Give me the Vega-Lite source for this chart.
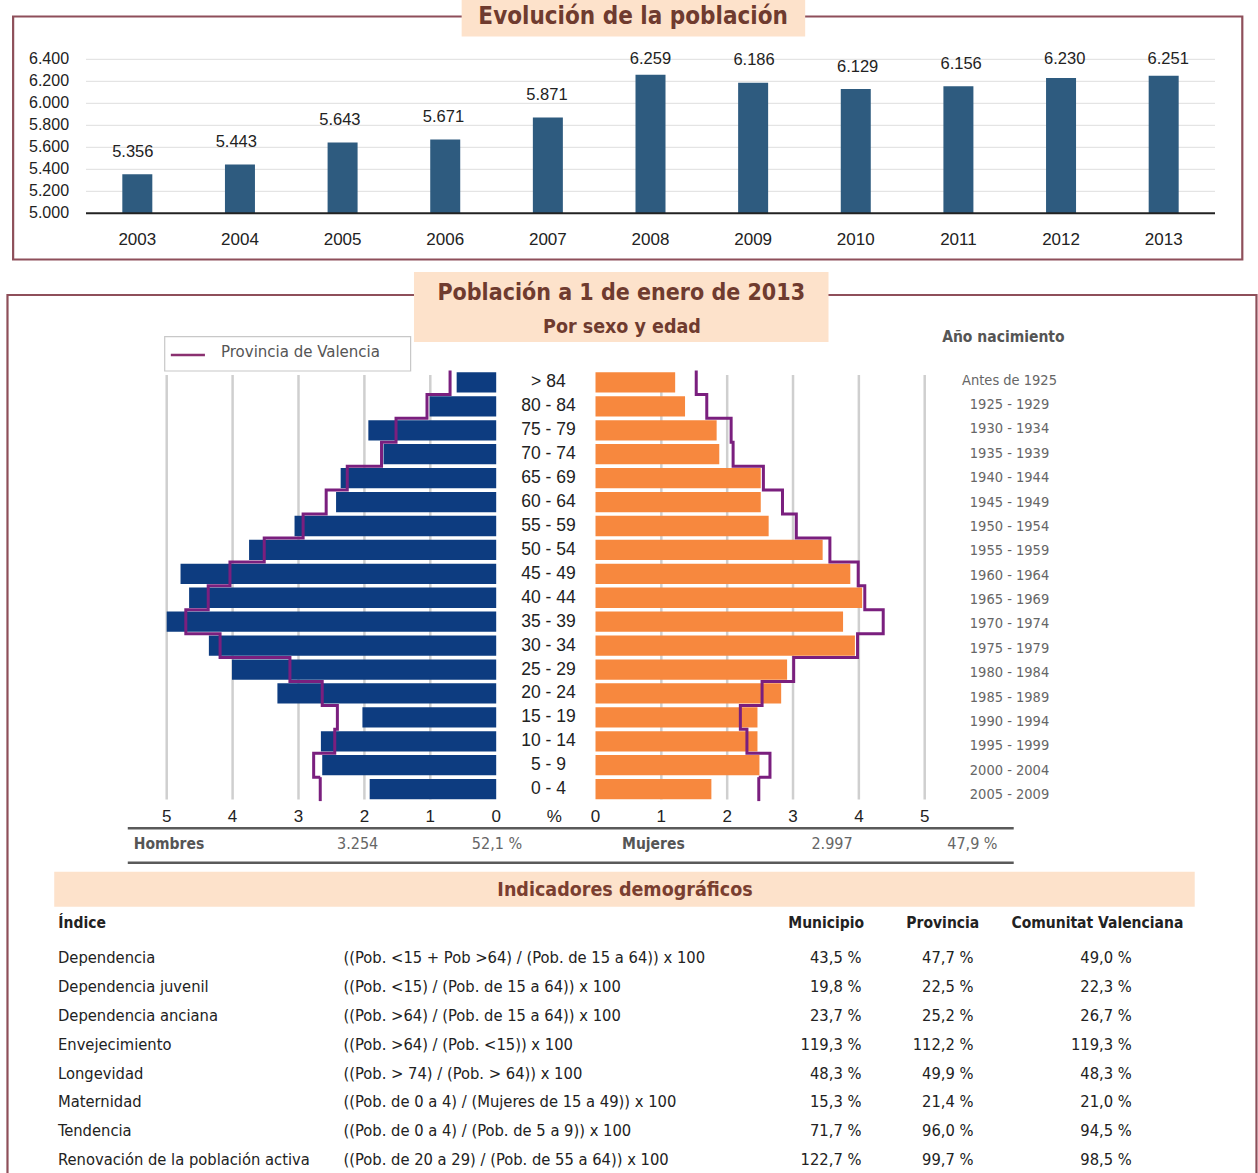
{
"$schema": "https://vega.github.io/schema/vega-lite/v6.json",
"width": 1258, "height": 1173,
"autosize": {"type": "none"},
"padding": 0,
"background": "white",
"config": {"view": {"stroke": null}, "axis": {"disable": true},
  "locale": {"number": {"decimal": ",", "thousands": ".", "grouping": [3], "currency": ["", " €"], "percent": " %"}}},
"datasets": {
  "pop": [
    {"year": 2003, "poblacion": 5356}, {"year": 2004, "poblacion": 5443}, {"year": 2005, "poblacion": 5643},
    {"year": 2006, "poblacion": 5671}, {"year": 2007, "poblacion": 5871}, {"year": 2008, "poblacion": 6259},
    {"year": 2009, "poblacion": 6186}, {"year": 2010, "poblacion": 6129}, {"year": 2011, "poblacion": 6156},
    {"year": 2012, "poblacion": 6230}, {"year": 2013, "poblacion": 6251}],
  "ytick": [{"v": 5000}, {"v": 5200}, {"v": 5400}, {"v": 5600}, {"v": 5800}, {"v": 6000}, {"v": 6200}, {"v": 6400}],
  "ticks": [{"t": 0}, {"t": 1}, {"t": 2}, {"t": 3}, {"t": 4}, {"t": 5}],
  "piramide": [
    {"b": 0, "edad": "> 84", "nacimiento": "Antes de 1925", "hombres": 0.60, "mujeres": 1.21, "prov_h": 0.70, "prov_m": 1.53},
    {"b": 1, "edad": "80 - 84", "nacimiento": "1925 - 1929", "hombres": 1.01, "mujeres": 1.36, "prov_h": 1.05, "prov_m": 1.69},
    {"b": 2, "edad": "75 - 79", "nacimiento": "1930 - 1934", "hombres": 1.94, "mujeres": 1.84, "prov_h": 1.52, "prov_m": 2.06},
    {"b": 3, "edad": "70 - 74", "nacimiento": "1935 - 1939", "hombres": 1.71, "mujeres": 1.88, "prov_h": 1.74, "prov_m": 2.09},
    {"b": 4, "edad": "65 - 69", "nacimiento": "1940 - 1944", "hombres": 2.36, "mujeres": 2.51, "prov_h": 2.26, "prov_m": 2.55},
    {"b": 5, "edad": "60 - 64", "nacimiento": "1945 - 1949", "hombres": 2.43, "mujeres": 2.51, "prov_h": 2.58, "prov_m": 2.84},
    {"b": 6, "edad": "55 - 59", "nacimiento": "1950 - 1954", "hombres": 3.06, "mujeres": 2.63, "prov_h": 2.93, "prov_m": 3.05},
    {"b": 7, "edad": "50 - 54", "nacimiento": "1955 - 1959", "hombres": 3.75, "mujeres": 3.45, "prov_h": 3.52, "prov_m": 3.56},
    {"b": 8, "edad": "45 - 49", "nacimiento": "1960 - 1964", "hombres": 4.79, "mujeres": 3.87, "prov_h": 4.04, "prov_m": 3.99},
    {"b": 9, "edad": "40 - 44", "nacimiento": "1965 - 1969", "hombres": 4.66, "mujeres": 4.05, "prov_h": 4.37, "prov_m": 4.09},
    {"b": 10, "edad": "35 - 39", "nacimiento": "1970 - 1974", "hombres": 5.00, "mujeres": 3.76, "prov_h": 4.71, "prov_m": 4.37},
    {"b": 11, "edad": "30 - 34", "nacimiento": "1975 - 1979", "hombres": 4.36, "mujeres": 3.94, "prov_h": 4.19, "prov_m": 3.98},
    {"b": 12, "edad": "25 - 29", "nacimiento": "1980 - 1984", "hombres": 4.01, "mujeres": 2.91, "prov_h": 3.13, "prov_m": 3.01},
    {"b": 13, "edad": "20 - 24", "nacimiento": "1985 - 1989", "hombres": 3.32, "mujeres": 2.82, "prov_h": 2.64, "prov_m": 2.53},
    {"b": 14, "edad": "15 - 19", "nacimiento": "1990 - 1994", "hombres": 2.03, "mujeres": 2.46, "prov_h": 2.41, "prov_m": 2.20},
    {"b": 15, "edad": "10 - 14", "nacimiento": "1995 - 1999", "hombres": 2.66, "mujeres": 2.46, "prov_h": 2.45, "prov_m": 2.30},
    {"b": 16, "edad": "5 - 9", "nacimiento": "2000 - 2004", "hombres": 2.64, "mujeres": 2.49, "prov_h": 2.77, "prov_m": 2.65},
    {"b": 17, "edad": "0 - 4", "nacimiento": "2005 - 2009", "hombres": 1.92, "mujeres": 1.76, "prov_h": 2.67, "prov_m": 2.48}],
  "totales": [
    {"sexo": "Hombres", "total": 3254, "pct": 0.521},
    {"sexo": "Mujeres", "total": 2997, "pct": 0.479}],
  "indicadores": [
    {"indice": "Dependencia", "formula": "((Pob. <15 + Pob >64) / (Pob. de 15 a 64)) x 100", "municipio": 0.435, "provincia": 0.477, "cv": 0.490},
    {"indice": "Dependencia juvenil", "formula": "((Pob. <15) / (Pob. de 15 a 64)) x 100", "municipio": 0.198, "provincia": 0.225, "cv": 0.223},
    {"indice": "Dependencia anciana", "formula": "((Pob. >64) / (Pob. de 15 a 64)) x 100", "municipio": 0.237, "provincia": 0.252, "cv": 0.267},
    {"indice": "Envejecimiento", "formula": "((Pob. >64) / (Pob. <15)) x 100", "municipio": 1.193, "provincia": 1.122, "cv": 1.193},
    {"indice": "Longevidad", "formula": "((Pob. > 74) / (Pob. > 64)) x 100", "municipio": 0.483, "provincia": 0.499, "cv": 0.483},
    {"indice": "Maternidad", "formula": "((Pob. de 0 a 4) / (Mujeres de 15 a 49)) x 100", "municipio": 0.153, "provincia": 0.214, "cv": 0.210},
    {"indice": "Tendencia", "formula": "((Pob. de 0 a 4) / (Pob. de 5 a 9)) x 100", "municipio": 0.717, "provincia": 0.960, "cv": 0.945},
    {"indice": "Renovación de la población activa", "formula": "((Pob. de 20 a 29) / (Pob. de 55 a 64)) x 100", "municipio": 1.227, "provincia": 0.997, "cv": 0.985}]
},
"resolve": {"scale": {"x": "independent", "y": "independent"}},
"layer": [
  {
    "layer": [
      {"data": {"values": [{}]}, "mark": {"type": "rect", "fillOpacity": 0, "stroke": "#8e4f5a", "strokeWidth": 2.2},
       "encoding": {
         "x": {"datum": 2001.79, "type": "quantitative", "scale": {"domain": [2002.5, 2013.5], "range": [81, 1220], "nice": false, "zero": false}},
         "x2": {"datum": 2013.766},
         "y": {"datum": 6789, "type": "quantitative", "scale": {"domain": [5000, 6400], "range": [213.3, 59.3], "nice": false, "zero": false}},
         "y2": {"datum": 4580}}},
      {"data": {"name": "ytick"}, "transform": [{"filter": "datum.v > 5000"}],
       "mark": {"type": "rule", "color": "#dedede", "strokeWidth": 1},
       "encoding": {"y": {"field": "v", "type": "quantitative"}, "x": {"datum": 2002.5}, "x2": {"datum": 2013.5}}},
      {"data": {"name": "ytick"},
       "mark": {"type": "text", "align": "right", "baseline": "middle", "fontSize": 16, "font": "Liberation Sans", "color": "#222"},
       "encoding": {"y": {"field": "v", "type": "quantitative"}, "x": {"datum": 2002.335}, "text": {"field": "v", "type": "quantitative", "format": ","}}},
      {"data": {"name": "pop"}, "mark": {"type": "bar", "width": 30, "color": "#2e5b7f"},
       "encoding": {"x": {"field": "year", "type": "quantitative"}, "y": {"field": "poblacion", "type": "quantitative"}, "y2": {"datum": 5000}}},
      {"data": {"values": [{}]}, "mark": {"type": "rule", "color": "#222", "strokeWidth": 2},
       "encoding": {"y": {"datum": 5000}, "x": {"datum": 2002.5}, "x2": {"datum": 2013.5}}},
      {"data": {"name": "pop"},
       "mark": {"type": "text", "baseline": "middle", "fontSize": 17, "font": "Liberation Sans", "color": "#222"},
       "encoding": {"x": {"field": "year", "type": "quantitative"}, "y": {"datum": 4757.3}, "text": {"field": "year", "type": "nominal"}}},
      {"data": {"values": [{}]}, "mark": {"type": "rect", "color": "#fde2cb"},
       "encoding": {"x": {"datum": 2006.16}, "x2": {"datum": 2009.507}, "y": {"datum": 6939}, "y2": {"datum": 6607.3}}},
      {"data": {"values": [{}]},
       "mark": {"type": "text", "text": "Evolución de la población", "fontSize": 24, "fontWeight": "bold", "font": "DejaVu Sans Condensed, Liberation Sans Narrow, sans-serif", "color": "#6f3b2f", "baseline": "middle"},
       "encoding": {"x": {"datum": 2007.831}, "y": {"datum": 6784.5}}}
    ]
  },
  {"data": {"name": "pop"},
   "mark": {"type": "text", "baseline": "middle", "fontSize": 16.5, "font": "Liberation Sans", "color": "#222"},
   "encoding": {
     "x": {"field": "year", "type": "quantitative", "scale": {"domain": [2002.5, 2013.5], "range": [81, 1220], "nice": false, "zero": false}},
     "y": {"field": "poblacion", "type": "quantitative", "scale": {"domain": [4795.5, 6195.5], "range": [213.3, 59.3], "clamp": true, "nice": false, "zero": false}},
     "text": {"field": "poblacion", "type": "quantitative", "format": ","}}},
  {
    "layer": [
      {"data": {"values": [{}]}, "mark": {"type": "rect", "fillOpacity": 0, "stroke": "#8e4f5a", "strokeWidth": 2.2},
       "encoding": {
         "x": {"datum": -8.931, "type": "quantitative", "scale": {"domain": [0, 5], "range": [595.5, 924.7], "nice": false, "zero": false}},
         "x2": {"datum": 10.039},
         "y": {"datum": -3.156, "type": "quantitative", "scale": {"domain": [0, 18], "range": [370.5, 801.1], "nice": false, "zero": false}},
         "y2": {"datum": 34.26}}},
      {"data": {"values": [{}]}, "mark": {"type": "rect", "color": "#fde2cb"},
       "encoding": {"x": {"datum": -2.757}, "x2": {"datum": 3.539}, "y": {"datum": -4.118}, "y2": {"datum": -1.191}}},
      {"data": {"values": [{}]},
       "mark": {"type": "text", "text": "Población a 1 de enero de 2013", "fontSize": 23, "fontWeight": "bold", "font": "DejaVu Sans Condensed, Liberation Sans Narrow, sans-serif", "color": "#6f3b2f", "baseline": "middle"},
       "encoding": {"x": {"datum": 0.391}, "y": {"datum": -3.24}}},
      {"data": {"values": [{}]},
       "mark": {"type": "text", "text": "Por sexo y edad", "fontSize": 19.5, "fontWeight": "bold", "font": "DejaVu Sans Condensed, Liberation Sans Narrow, sans-serif", "color": "#6f3b2f", "baseline": "middle"},
       "encoding": {"x": {"datum": 0.402}, "y": {"datum": -1.831}}},
      {"data": {"values": [{}]}, "mark": {"type": "rect", "fill": "white", "stroke": "#c8c8c8", "strokeWidth": 1.2},
       "encoding": {"x": {"datum": -6.543}, "x2": {"datum": -2.808}, "y": {"datum": -1.413}, "y2": {"datum": 0.021}}},
      {"data": {"values": [{}]}, "mark": {"type": "rule", "color": "#8a3070", "strokeWidth": 2.5},
       "encoding": {"x": {"datum": -6.45}, "x2": {"datum": -5.932}, "y": {"datum": -0.648}}},
      {"data": {"values": [{}]},
       "mark": {"type": "text", "text": "Provincia de Valencia", "align": "left", "fontSize": 16.7, "font": "DejaVu Sans Condensed, Liberation Sans Narrow, sans-serif", "color": "#555", "baseline": "middle"},
       "encoding": {"x": {"datum": -5.688}, "y": {"datum": -0.761}}},
      {"data": {"values": [{}]},
       "mark": {"type": "text", "text": "Año nacimiento", "fontSize": 15.5, "fontWeight": "bold", "font": "DejaVu Sans Condensed, Liberation Sans Narrow, sans-serif", "color": "#555", "baseline": "middle"},
       "encoding": {"x": {"datum": 6.195}, "y": {"datum": -1.413}}},
      {"data": {"name": "ticks"}, "transform": [{"filter": "datum.t > 0"}],
       "mark": {"type": "rule", "color": "#cfcfcf", "strokeWidth": 2.5},
       "encoding": {"x": {"field": "t", "type": "quantitative"}, "y": {"datum": 0.188}, "y2": {"datum": 17.934}}},
      {"data": {"name": "ticks"},
       "mark": {"type": "text", "fontSize": 17, "font": "Liberation Sans", "color": "#222", "baseline": "middle"},
       "encoding": {"x": {"field": "t", "type": "quantitative"}, "y": {"datum": 18.652}, "text": {"field": "t", "type": "quantitative", "format": "d"}}},
      {"data": {"values": [{}]},
       "mark": {"type": "text", "text": "%", "fontSize": 17, "font": "Liberation Sans", "color": "#222", "baseline": "middle"},
       "encoding": {"x": {"datum": -0.624}, "y": {"datum": 18.652}}},
      {"data": {"values": [{}]}, "mark": {"type": "rule", "color": "#5a5a5a", "strokeWidth": 2.5},
       "encoding": {"x": {"datum": -7.104}, "x2": {"datum": 6.352}, "y": {"datum": 19.137}}},
      {"data": {"values": [{}]}, "mark": {"type": "rule", "color": "#5a5a5a", "strokeWidth": 2.5},
       "encoding": {"x": {"datum": -7.104}, "x2": {"datum": 6.352}, "y": {"datum": 20.575}}},
      {"data": {"values": [{}]}, "mark": {"type": "rect", "color": "#fde2cb"},
       "encoding": {"x": {"datum": -8.221}, "x2": {"datum": 9.101}, "y": {"datum": 20.951}, "y2": {"datum": 22.414}}},
      {"data": {"values": [{}]},
       "mark": {"type": "text", "text": "Indicadores demográficos", "fontSize": 19.5, "fontWeight": "bold", "font": "DejaVu Sans Condensed, Liberation Sans Narrow, sans-serif", "color": "#7a3e30", "baseline": "middle"},
       "encoding": {"x": {"datum": 0.448}, "y": {"datum": 21.717}}},
      {"data": {"values": [{}]},
       "mark": {"type": "text", "text": "Índice", "align": "left", "fontSize": 15.5, "fontWeight": "bold", "font": "DejaVu Sans Condensed, Liberation Sans Narrow, sans-serif", "color": "#222", "baseline": "middle"},
       "encoding": {"x": {"datum": -8.159}, "y": {"datum": 23.109}}},
      {"data": {"values": [{}]},
       "mark": {"type": "text", "text": "Municipio", "fontSize": 15.5, "fontWeight": "bold", "font": "DejaVu Sans Condensed, Liberation Sans Narrow, sans-serif", "color": "#222", "baseline": "middle"},
       "encoding": {"x": {"datum": 3.504}, "y": {"datum": 23.109}}},
      {"data": {"values": [{}]},
       "mark": {"type": "text", "text": "Provincia", "fontSize": 15.5, "fontWeight": "bold", "font": "DejaVu Sans Condensed, Liberation Sans Narrow, sans-serif", "color": "#222", "baseline": "middle"},
       "encoding": {"x": {"datum": 5.275}, "y": {"datum": 23.109}}},
      {"data": {"values": [{}]},
       "mark": {"type": "text", "text": "Comunitat Valenciana", "fontSize": 15.5, "fontWeight": "bold", "font": "DejaVu Sans Condensed, Liberation Sans Narrow, sans-serif", "color": "#222", "baseline": "middle"},
       "encoding": {"x": {"datum": 7.623}, "y": {"datum": 23.109}}}
    ]
  },
  {
    "layer": [
      {"data": {"name": "ticks"}, "transform": [{"filter": "datum.t > 0"}],
       "mark": {"type": "rule", "color": "#cfcfcf", "strokeWidth": 2.5},
       "encoding": {
         "x": {"field": "t", "type": "quantitative", "scale": {"domain": [0, 5], "range": [496.2, 166.7], "nice": false, "zero": false}},
         "y": {"datum": 0.188, "type": "quantitative", "scale": {"domain": [0, 18], "range": [370.5, 801.1], "nice": false, "zero": false}},
         "y2": {"datum": 17.934}}},
      {"data": {"name": "ticks"},
       "mark": {"type": "text", "fontSize": 17, "font": "Liberation Sans", "color": "#222", "baseline": "middle"},
       "encoding": {"x": {"field": "t", "type": "quantitative"}, "y": {"datum": 18.652}, "text": {"field": "t", "type": "quantitative", "format": "d"}}}
    ]
  },
  {
    "layer": [
      {"data": {"name": "piramide"}, "mark": {"type": "bar", "color": "#0d3c80"},
       "encoding": {
         "x": {"field": "hombres", "type": "quantitative", "scale": {"domain": [0, 5], "range": [496.2, 166.7], "nice": false, "zero": false}},
         "x2": {"datum": 0},
         "y": {"field": "edad", "type": "nominal", "sort": null, "scale": {"type": "band", "range": [370.5, 801.1], "paddingInner": 0.152, "paddingOuter": 0.076}}}},
      {"data": {"name": "piramide"},
       "mark": {"type": "text", "fontSize": 17.5, "font": "Liberation Sans", "color": "#222", "baseline": "middle"},
       "encoding": {"x": {"datum": -0.792}, "y": {"field": "edad", "type": "nominal", "sort": null}, "text": {"field": "edad", "type": "nominal"}}}
    ]
  },
  {"data": {"name": "piramide"}, "mark": {"type": "bar", "color": "#f7883e"},
   "encoding": {
     "x": {"field": "mujeres", "type": "quantitative", "scale": {"domain": [0, 5], "range": [595.5, 924.7], "nice": false, "zero": false}},
     "x2": {"datum": 0},
     "y": {"field": "edad", "type": "nominal", "sort": null, "scale": {"type": "band", "range": [370.5, 801.1], "paddingInner": 0.152, "paddingOuter": 0.076}}}},
  {
    "layer": [
      {"data": {"name": "piramide"}, "mark": {"type": "line", "interpolate": "step-before", "color": "#7a1f7e", "strokeWidth": 3},
       "encoding": {
         "x": {"field": "prov_h", "type": "quantitative", "scale": {"domain": [0, 5], "range": [496.2, 166.7], "nice": false, "zero": false}},
         "y": {"field": "b", "type": "quantitative", "scale": {"domain": [0, 18], "range": [370.5, 801.1], "nice": false, "zero": false}},
         "order": {"field": "b", "type": "quantitative"}}},
      {"data": {"name": "piramide"}, "transform": [{"filter": "datum.b == 17"}],
       "mark": {"type": "rule", "color": "#7a1f7e", "strokeWidth": 3},
       "encoding": {"x": {"field": "prov_h", "type": "quantitative"}, "y": {"datum": 17}, "y2": {"datum": 18}}}
    ]
  },
  {
    "layer": [
      {"data": {"name": "piramide"}, "mark": {"type": "line", "interpolate": "step-before", "color": "#7a1f7e", "strokeWidth": 3},
       "encoding": {
         "x": {"field": "prov_m", "type": "quantitative", "scale": {"domain": [0, 5], "range": [595.5, 924.7], "nice": false, "zero": false}},
         "y": {"field": "b", "type": "quantitative", "scale": {"domain": [0, 18], "range": [370.5, 801.1], "nice": false, "zero": false}},
         "order": {"field": "b", "type": "quantitative"}}},
      {"data": {"name": "piramide"}, "transform": [{"filter": "datum.b == 17"}],
       "mark": {"type": "rule", "color": "#7a1f7e", "strokeWidth": 3},
       "encoding": {"x": {"field": "prov_m", "type": "quantitative"}, "y": {"datum": 17}, "y2": {"datum": 18}}}
    ]
  },
  {"data": {"name": "piramide"},
   "mark": {"type": "text", "fontSize": 14.5, "font": "DejaVu Sans Condensed, Liberation Sans Narrow, sans-serif", "color": "#666", "baseline": "middle"},
   "encoding": {
     "x": {"datum": 6.288, "type": "quantitative", "scale": {"domain": [0, 5], "range": [595.5, 924.7], "nice": false, "zero": false}},
     "y": {"field": "nacimiento", "type": "nominal", "sort": null, "scale": {"type": "band", "range": [368.5, 807.2], "paddingInner": 0, "paddingOuter": 0}},
     "text": {"field": "nacimiento", "type": "nominal"}}},
  {
    "layer": [
      {"data": {"name": "indicadores"},
       "mark": {"type": "text", "align": "left", "fontSize": 16.4, "font": "DejaVu Sans Condensed, Liberation Sans Narrow, sans-serif", "color": "#222", "baseline": "middle"},
       "encoding": {
         "x": {"datum": -8.164, "type": "quantitative", "scale": {"domain": [0, 5], "range": [595.5, 924.7], "nice": false, "zero": false}},
         "y": {"field": "indice", "type": "nominal", "sort": null, "scale": {"type": "band", "range": [943.9, 1174.4], "paddingInner": 0, "paddingOuter": 0}},
         "text": {"field": "indice", "type": "nominal"}}},
      {"data": {"name": "indicadores"},
       "mark": {"type": "text", "align": "left", "fontSize": 16.4, "font": "DejaVu Sans Condensed, Liberation Sans Narrow, sans-serif", "color": "#222", "baseline": "middle"},
       "encoding": {"x": {"datum": -3.828}, "y": {"field": "indice", "type": "nominal", "sort": null}, "text": {"field": "formula", "type": "nominal"}}},
      {"data": {"name": "indicadores"},
       "mark": {"type": "text", "align": "right", "fontSize": 16.4, "font": "DejaVu Sans Condensed, Liberation Sans Narrow, sans-serif", "color": "#222", "baseline": "middle"},
       "encoding": {"x": {"datum": 4.04}, "y": {"field": "indice", "type": "nominal", "sort": null}, "text": {"field": "municipio", "type": "quantitative", "format": ".1%"}}},
      {"data": {"name": "indicadores"},
       "mark": {"type": "text", "align": "right", "fontSize": 16.4, "font": "DejaVu Sans Condensed, Liberation Sans Narrow, sans-serif", "color": "#222", "baseline": "middle"},
       "encoding": {"x": {"datum": 5.743}, "y": {"field": "indice", "type": "nominal", "sort": null}, "text": {"field": "provincia", "type": "quantitative", "format": ".1%"}}},
      {"data": {"name": "indicadores"},
       "mark": {"type": "text", "align": "right", "fontSize": 16.4, "font": "DejaVu Sans Condensed, Liberation Sans Narrow, sans-serif", "color": "#222", "baseline": "middle"},
       "encoding": {"x": {"datum": 8.146}, "y": {"field": "indice", "type": "nominal", "sort": null}, "text": {"field": "cv", "type": "quantitative", "format": ".1%"}}}
    ]
  },
  {"data": {"name": "totales"},
   "mark": {"type": "text", "align": "left", "fontSize": 15.5, "fontWeight": "bold", "font": "DejaVu Sans Condensed, Liberation Sans Narrow, sans-serif", "color": "#555", "baseline": "middle"},
   "encoding": {
     "x": {"field": "sexo", "type": "nominal", "scale": {"type": "point", "domain": ["Hombres", "Mujeres"], "range": [133.8, 622], "padding": 0}},
     "y": {"datum": 19.794, "type": "quantitative", "scale": {"domain": [0, 18], "range": [370.5, 801.1], "nice": false, "zero": false}},
     "text": {"field": "sexo", "type": "nominal"}}},
  {"data": {"name": "totales"},
   "mark": {"type": "text", "fontSize": 16, "font": "DejaVu Sans Condensed, Liberation Sans Narrow, sans-serif", "color": "#666", "baseline": "middle"},
   "encoding": {
     "x": {"field": "sexo", "type": "nominal", "scale": {"type": "point", "domain": ["Hombres", "Mujeres"], "range": [357.6, 832], "padding": 0}},
     "y": {"datum": 19.794, "type": "quantitative", "scale": {"domain": [0, 18], "range": [370.5, 801.1], "nice": false, "zero": false}},
     "text": {"field": "total", "type": "quantitative", "format": ","}}},
  {"data": {"name": "totales"},
   "mark": {"type": "text", "fontSize": 16, "font": "DejaVu Sans Condensed, Liberation Sans Narrow, sans-serif", "color": "#666", "baseline": "middle"},
   "encoding": {
     "x": {"field": "sexo", "type": "nominal", "scale": {"type": "point", "domain": ["Hombres", "Mujeres"], "range": [497, 972.4], "padding": 0}},
     "y": {"datum": 19.794, "type": "quantitative", "scale": {"domain": [0, 18], "range": [370.5, 801.1], "nice": false, "zero": false}},
     "text": {"field": "pct", "type": "quantitative", "format": ".1%"}}}
]
}
